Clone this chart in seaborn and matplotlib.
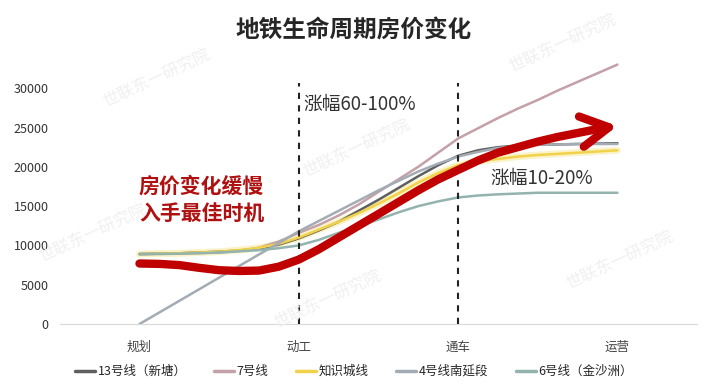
import numpy as np
import pandas as pd
import seaborn as sns
import matplotlib.pyplot as plt

# stage positions along the line life cycle
stages = ["规划", "动工", "通车", "运营"]
x_pts = [0, 0.125, 0.25, 0.375, 0.5, 0.625, 0.75, 0.875, 1, 1.125, 1.25, 1.375, 1.5,
         1.625, 1.75, 1.875, 2, 2.125, 2.25, 2.375, 2.5, 2.625, 2.75, 2.875, 3]

line13 = [8900, 8950, 9000, 9100, 9200, 9350, 9600, 10100, 10900, 11900, 13000, 14400, 15800,
          17300, 18800, 20200, 21400, 22100, 22500, 22700, 22800, 22850, 22900, 22950, 23000]
line7 = [8900, 8950, 9000, 9050, 9100, 9300, 9700, 10500, 11600, 12600, 13800, 15200, 16800,
         18400, 20000, 21800, 23600, 24900, 26200, 27400, 28500, 29700, 30800, 31900, 33000]
line_zsc = [8900, 8950, 9000, 9100, 9200, 9400, 9700, 10200, 11000, 12000, 13000, 14100, 15300,
            16600, 18000, 19200, 20200, 20700, 21000, 21300, 21500, 21650, 21800, 21950, 22100]
line4 = [0, 1475, 2950, 4425, 5900, 7375, 8850, 10300, 11800, 13100, 14400, 15700, 17000,
         18200, 19400, 20400, 21300, 21900, 22400, 22650, 22800, 22850, 22900, 22900, 22900]
line6 = [8900, 8900, 8950, 9000, 9100, 9250, 9400, 9650, 10000, 10700, 11600, 12400, 13300,
         14200, 15000, 15600, 16100, 16350, 16500, 16600, 16700, 16700, 16700, 16700, 16700]
trend = [7700, 7650, 7500, 7150, 6850, 6750, 6800, 7300, 8200, 9500, 11000, 12500, 14000,
         15500, 17000, 18400, 19600, 20800, 21800, 22500, 23200, 23800, 24300, 24800, 25200]

names = ["13号线（新塘）", "7号线", "知识城线", "4号线南延段", "6号线（金沙洲）"]
series = [line13, line7, line_zsc, line4, line6]
colors = ["#5f5f5f", "#c4a0a8", "#f2d24a", "#a3abb3", "#93b3ae"]

df = pd.DataFrame({
    "x": np.tile(x_pts, len(names)),
    "price": np.concatenate(series),
    "line": np.repeat(names, len(x_pts)),
})

sns.set_style("white")
plt.rcParams["font.family"] = ["Noto Sans CJK SC", "DejaVu Sans"]

fig = plt.figure(figsize=(7.12, 3.89), dpi=100)
ax = fig.add_axes([0.084, 0.167, 0.895, 0.677])

# faint watermark
for (wx, wy) in [(0.22, 0.80), (0.79, 0.89), (0.50, 0.62), (0.13, 0.40), (0.87, 0.33),
                 (0.46, 0.23)]:
    fig.text(wx, wy, "世联东一研究院", rotation=25, fontsize=12, color="#f0f0f0",
             ha="center", va="center", zorder=0)

# glow for yellow line
ax.plot(x_pts, line_zsc, color="#f8eeb0", lw=5, alpha=0.7, zorder=1)
sns.lineplot(data=df, x="x", y="price", hue="line", hue_order=names,
             palette=dict(zip(names, colors)), lw=1.8, ax=ax, legend=False, zorder=2)

# red trend arrow
ax.plot(x_pts[:-1], trend[:-1], color="#c00000", lw=6, solid_capstyle="round",
        solid_joinstyle="round", zorder=4)
ax.annotate("", xy=(x_pts[-1], trend[-1]), xytext=(x_pts[-2], trend[-2]),
            arrowprops=dict(arrowstyle="->,head_length=2.0,head_width=1.1",
                            color="#c00000", lw=6, shrinkA=0, shrinkB=0,
                            capstyle="round", joinstyle="round"), zorder=4)

# stage dividers
for xv in [1, 2]:
    ax.plot([xv, xv], [0, 30700], ls=(0, (3, 3)), color="#222222", lw=1.5, zorder=3)

ax.text(1.03, 27900, "涨幅60-100%", fontsize=13.5, color="#333333", va="center", ha="left")
ax.text(2.2, 18500, "涨幅10-20%", fontsize=13.5, color="#333333", va="center", ha="left")
ax.text(0.39, 17500, "房价变化缓慢", fontsize=15, color="#b01010", va="center", ha="center",
        fontweight="bold")
ax.text(0.39, 14100, "入手最佳时机", fontsize=15, color="#b01010", va="center", ha="center",
        fontweight="bold")

ax.set_xlim(-0.5, 3.5)
ax.set_ylim(0, 33500)
ax.set_xticks(range(len(stages)))
ax.set_xticklabels(stages, fontsize=9, color="#444444")
ax.set_yticks(range(0, 30001, 5000))
ax.set_yticklabels([str(v) for v in range(0, 30001, 5000)], fontsize=9, color="#333333")
ax.tick_params(axis="x", length=0, pad=12)
ax.tick_params(axis="y", length=0, pad=8)
ax.set_xlabel("")
ax.set_ylabel("")
for side in ["top", "right", "left"]:
    ax.spines[side].set_visible(False)
ax.spines["bottom"].set_color("#d9d9d9")

fig.suptitle("地铁生命周期房价变化", x=0.497, y=0.955, fontsize=17, fontweight="bold")

handles = [plt.Line2D([], [], color=c, lw=2.5) for c in colors]
fig.legend(handles, names, loc="center", bbox_to_anchor=(0.497, 0.045), ncol=5, frameon=False,
           fontsize=9, handlelength=1.6, handletextpad=0.2, columnspacing=2.2)

fig.savefig("out.png", dpi=100)
